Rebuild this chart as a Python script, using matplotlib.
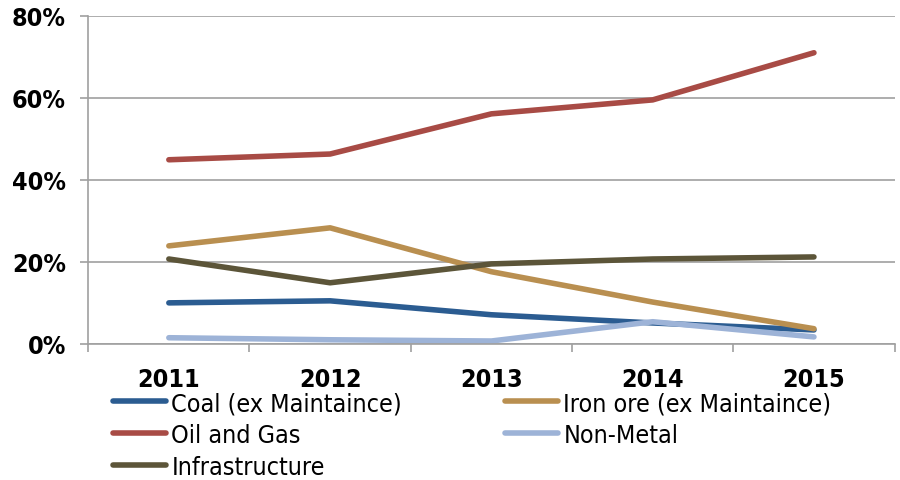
import matplotlib
matplotlib.use('Agg')
import numpy as np
from matplotlib import pyplot as plt
from matplotlib.ticker import FuncFormatter

plt.rcParams['font.family'] = ['DejaVu Sans']
plt.rcParams['font.stretch'] = 'condensed'

years = ['2011', '2012', '2013', '2014', '2015']
coal = [10.0, 10.5, 7.1, 5.1, 3.4]
iron_ore = [23.9, 28.3, 17.6, 10.2, 3.7]
oil_gas = [44.9, 46.3, 56.1, 59.5, 71.0]
non_metal = [1.5, 1.0, 0.7, 5.4, 1.7]
infrastructure = [20.7, 14.9, 19.5, 20.7, 21.2]

series = [
    ('Coal (ex Maintaince)', coal, '#2B5C91'),
    ('Iron ore (ex Maintaince)', iron_ore, '#B98F50'),
    ('Oil and Gas', oil_gas, '#A84B45'),
    ('Non-Metal', non_metal, '#9DB3D7'),
    ('Infrastructure', infrastructure, '#5C5539'),
]

fig = plt.figure(figsize=(9, 4.81), dpi=100)
ax = fig.add_axes([0.098, 0.283, 0.896, 0.682])

x = np.arange(len(years))
lines = {}
for name, vals, col in series:
    ln, = ax.plot(x, vals, color=col, lw=4, solid_capstyle='round', label=name)
    lines[name] = ln

ax.set_ylim(0, 80)
ax.set_yticks([0, 20, 40, 60, 80])
ax.yaxis.set_major_formatter(FuncFormatter(lambda v, p: '%d%%' % v))
ax.set_xlim(-0.5, len(years) - 0.5)
# category ticks sit between the years, labels in the middle
ax.set_xticks(np.arange(-0.5, len(years)))
ax.set_xticklabels([])
ax.set_xticks(x, minor=True)
ax.set_xticklabels(years, minor=True)
ax.tick_params(axis='x', which='minor', length=0, pad=17, labelsize=18)
ax.tick_params(axis='x', which='major', length=6, color='#A0A0A0', width=1.2, direction='out')
ax.tick_params(axis='y', length=6, color='#A0A0A0', width=1.2, labelsize=18, pad=10)
for lab in ax.get_xticklabels(minor=True) + ax.get_yticklabels():
    lab.set_fontweight('bold')

ax.grid(axis='y', color='#A0A0A0', lw=1.2)
ax.set_axisbelow(True)
for s in ['top', 'right']:
    ax.spines[s].set_visible(False)
for s in ['left', 'bottom']:
    ax.spines[s].set_color('#A0A0A0')
    ax.spines[s].set_linewidth(1.2)

order = ['Coal (ex Maintaince)', 'Oil and Gas', 'Infrastructure',
         'Iron ore (ex Maintaince)', 'Non-Metal']
fig.legend([lines[n] for n in order], order, ncol=2, loc='upper left',
           bbox_to_anchor=(0.125, 0.185), frameon=False, fontsize=18,
           handlelength=2.15, handletextpad=0.2, columnspacing=4.1,
           labelspacing=0.31, borderaxespad=0, borderpad=0)

fig.savefig('out.png', dpi=100)
